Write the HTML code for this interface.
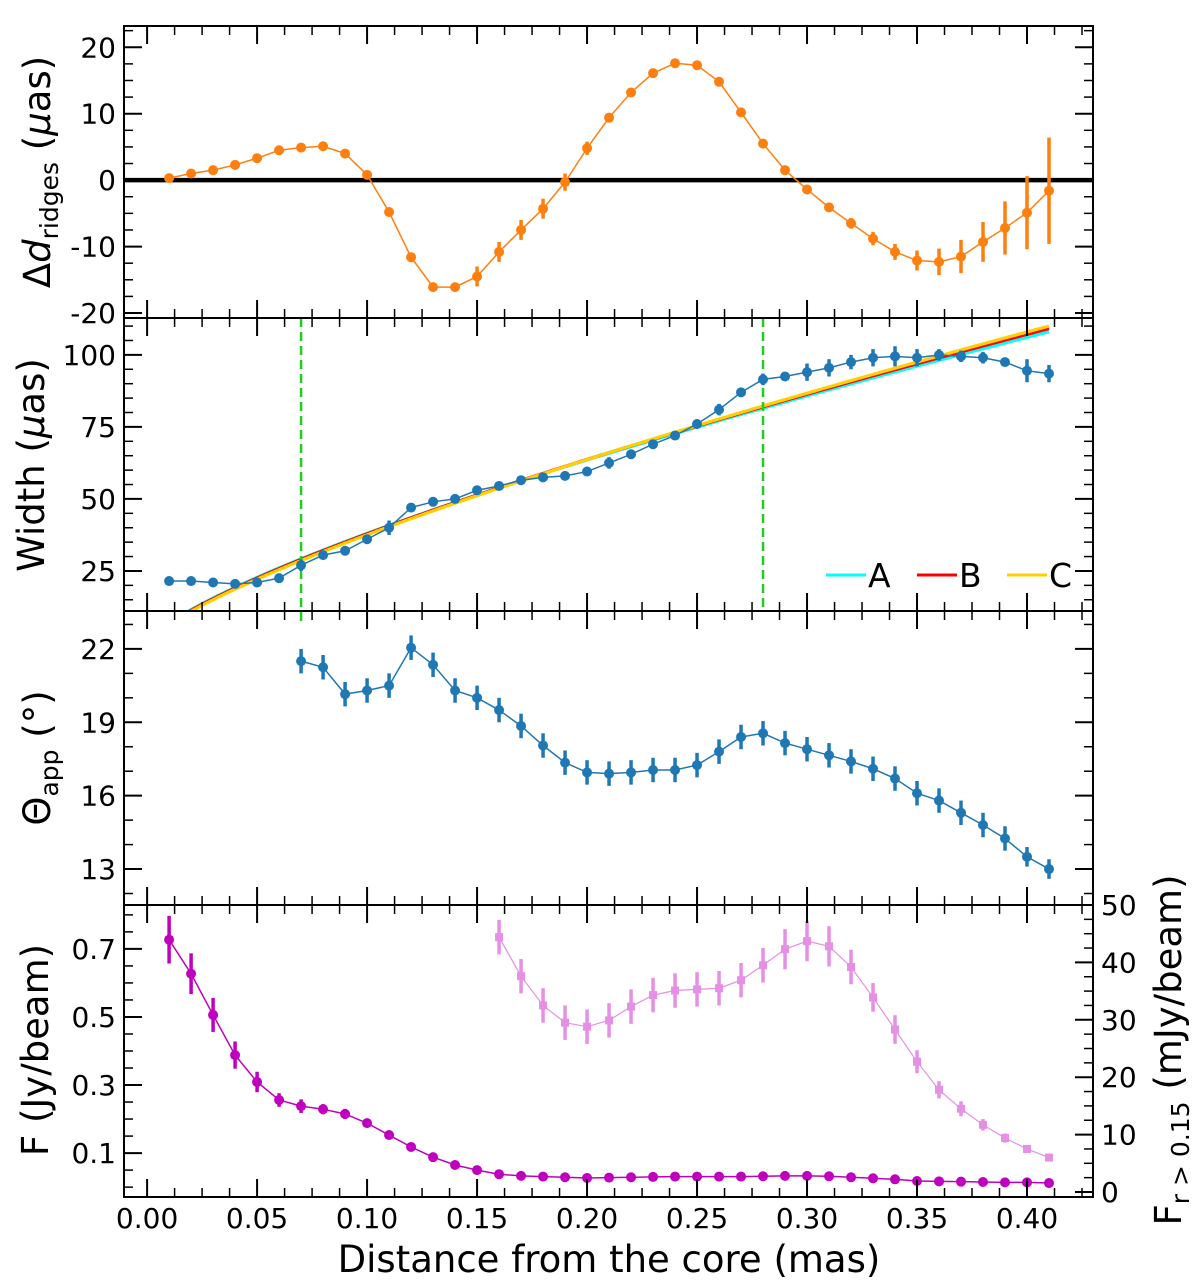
<!DOCTYPE html>
<html><head><meta charset="utf-8"><style>
html,body{margin:0;padding:0;background:#fff;}
svg{display:block;font-family:"DejaVu Sans","Liberation Sans",sans-serif;}
</style></head><body>
<svg id="chart" width="1200" height="1286" viewBox="0 0 1200 1286" xmlns="http://www.w3.org/2000/svg">
<g id="plots"></g>
<text x="609" y="1272" font-size="37" text-anchor="middle">Distance from the core (mas)</text>
<text transform="translate(50,172) rotate(-90)" font-size="37" text-anchor="middle">Δ<tspan font-style="italic">d</tspan><tspan font-size="25" dy="8">ridges</tspan><tspan dy="-8"> (</tspan><tspan font-style="italic">μ</tspan>as)</text>
<text transform="translate(44,465) rotate(-90)" font-size="37" text-anchor="middle">Width (<tspan font-style="italic">μ</tspan>as)</text>
<text transform="translate(50,758) rotate(-90)" font-size="37" text-anchor="middle">Θ<tspan font-size="25" dy="8">app</tspan><tspan dy="-8">  (°)</tspan></text>
<text transform="translate(48,1050) rotate(-90)" font-size="37" text-anchor="middle">F (Jy/beam)</text>
<text transform="translate(1181,1050) rotate(-90)" font-size="37" text-anchor="middle">F<tspan font-size="25" dy="8">r &gt; 0.15</tspan><tspan dy="-8"> (mJy/beam)</tspan></text>
</svg>
<script>
// ---- data ----
const xs1 = [0.01,0.02,0.03,0.04,0.05,0.06,0.07,0.08,0.09,0.10,0.11,0.12,0.13,0.14,0.15,0.16,0.17,0.18,0.19,0.20,0.21,0.22,0.23,0.24,0.25,0.26,0.27,0.28,0.29,0.30,0.31,0.32,0.33,0.34,0.35,0.36,0.37,0.38,0.39,0.40,0.41];
const ridges = [0.3,1,1.5,2.3,3.3,4.5,4.9,5.1,4,0.8,-4.8,-11.6,-16.1,-16.1,-14.5,-10.8,-7.5,-4.3,-0.3,4.8,9.4,13.2,16.1,17.6,17.3,14.8,10.2,5.5,1.5,-1.4,-4.1,-6.5,-8.8,-10.8,-12.1,-12.3,-11.5,-9.3,-7.2,-4.9,-1.6];
const ridgesErr = [0.4,0.4,0.4,0.4,0.4,0.4,0.4,0.4,0.4,0.4,0.4,0.4,0.5,0.5,1.5,1.5,1.5,1.5,1.3,1,0.6,0.5,0.5,0.5,0.5,0.5,0.5,0.5,0.5,0.5,0.6,0.8,1,1.2,1.5,2,2.5,3,4,5.5,8];
const widthVals = [21.5,21.5,21,20.5,21,22.5,27,30.5,32,36,40,47,49,50,53,54.5,56.5,57.5,58,59.5,62.5,65.5,69,72,76,81,87,91.5,92.5,94,95.5,97.5,99,99.5,99,100,99.5,99,97.5,94.5,93.5];
const widthErr = [1.5,1,1,1,1,1,2,1,1,1,2.5,1,1,1,1,1,1,1,1,1,2,1,1.5,1,1,2,1,2,1,3,3,2.5,3,3.5,3,2,2,2,1.5,4,3];
const xs3 = [0.07,0.08,0.09,0.10,0.11,0.12,0.13,0.14,0.15,0.16,0.17,0.18,0.19,0.20,0.21,0.22,0.23,0.24,0.25,0.26,0.27,0.28,0.29,0.30,0.31,0.32,0.33,0.34,0.35,0.36,0.37,0.38,0.39,0.40,0.41];
const theta = [21.5,21.25,20.15,20.3,20.5,22.05,21.35,20.3,20.0,19.5,18.85,18.05,17.35,16.95,16.9,16.95,17.05,17.05,17.25,17.8,18.4,18.55,18.15,17.9,17.65,17.4,17.1,16.7,16.1,15.8,15.3,14.8,14.25,13.5,13.0];
const thetaErr = [0.5,0.5,0.5,0.5,0.5,0.5,0.5,0.5,0.5,0.5,0.5,0.5,0.5,0.5,0.5,0.5,0.5,0.5,0.5,0.5,0.5,0.5,0.5,0.5,0.5,0.5,0.5,0.5,0.5,0.5,0.5,0.5,0.5,0.4,0.4];
const flux = [0.727,0.627,0.506,0.388,0.309,0.256,0.238,0.229,0.215,0.188,0.153,0.118,0.088,0.065,0.05,0.038,0.033,0.031,0.029,0.027,0.028,0.029,0.03,0.031,0.031,0.031,0.031,0.032,0.033,0.033,0.032,0.029,0.026,0.023,0.018,0.017,0.016,0.015,0.014,0.014,0.012];
const fluxErr = [0.07,0.06,0.05,0.04,0.03,0.02,0.02,0.015,0.015,0.012,0.008,0.006,0.005,0.004,0.003,0.003,0.003,0.003,0.003,0.003,0.003,0.003,0.003,0.003,0.003,0.003,0.003,0.003,0.003,0.003,0.003,0.003,0.003,0.003,0.003,0.003,0.003,0.003,0.003,0.003,0.003];
const xs4b = [0.16,0.17,0.18,0.19,0.20,0.21,0.22,0.23,0.24,0.25,0.26,0.27,0.28,0.29,0.30,0.31,0.32,0.33,0.34,0.35,0.36,0.37,0.38,0.39,0.40,0.41];
const fluxOuter = [44.4,37.6,32.5,29.5,28.8,29.9,32.3,34.3,35.1,35.3,35.5,36.9,39.5,42.3,43.7,42.8,39.2,33.9,28.3,22.7,17.8,14.5,11.7,9.4,7.5,6.0];
const fluxOuterErr = [3,3,3,3,3,3,3,3,3,3,3,3,3,3.5,3.5,3.5,3,2.5,2.5,2,1.5,1.3,1,0.8,0.6,0.4];
const fitNames = ["A","B","C"];
const fitAmp = [209,213,217];
const fitExp = [0.74,0.75,0.762];
const vlines = [0.07,0.28];
const xTicks = [0.00,0.05,0.10,0.15,0.20,0.25,0.30,0.35,0.40];
const xTickLabels = ["0.00","0.05","0.10","0.15","0.20","0.25","0.30","0.35","0.40"];

// ---- layout ----
const NS="http://www.w3.org/2000/svg";
const root=document.getElementById('plots');
const L=124,R=1093, X0=-0.0105, X1=0.4300;
const X=v=>L+(v-X0)/(X1-X0)*(R-L);
function el(tag,attrs,parent){const e=document.createElementNS(NS,tag);for(const k in attrs)e.setAttribute(k,attrs[k]);(parent||root).appendChild(e);return e;}
function makeY(top,bot,v0,v1){return v=>bot-(v-v0)/(v1-v0)*(bot-top);}
const panels=[
 {name:'ridges',top:26,bot:318,v0:-20.75,v1:23.2,ticks:[-20,-10,0,10,20],labels:["-20","-10","0","10","20"],minor:2.5},
 {name:'width',top:318,bot:611,v0:11.1,v1:112.8,ticks:[25,50,75,100],labels:["25","50","75","100"],minor:5},
 {name:'theta',top:611,bot:905,v0:11.53,v1:23.55,ticks:[13,16,19,22],labels:["13","16","19","22"],minor:1},
 {name:'flux',top:905,bot:1197,v0:-0.029,v1:0.829,ticks:[0.1,0.3,0.5,0.7],labels:["0.1","0.3","0.5","0.7"],minor:0.05}
];
panels.forEach(p=>p.Y=makeY(p.top,p.bot,p.v0,p.v1));
const YR=makeY(905,1192,0,50);

function clip(p,id){const c=el('clipPath',{id:id});el('rect',{x:L,y:p.top,width:R-L,height:p.bot-p.top},c);return 'url(#'+id+')';}

function drawAxes(p,idx,rightAxis){
  const g=el('g',{});
  
  
  for(let v=0;v<=0.4301;v+=0.0125){
    const major=Math.abs(v/0.05-Math.round(v/0.05))<1e-6;
    const len=major?18:9, w=major?2:1.5, x=X(v);
    el('line',{x1:x,y1:p.top,x2:x,y2:p.top+len,stroke:'#000','stroke-width':w},g);
    el('line',{x1:x,y1:p.bot,x2:x,y2:p.bot-len,stroke:'#000','stroke-width':w},g);
  }
  const start=Math.ceil(p.v0/p.minor)*p.minor;
  for(let v=start;v<=p.v1+1e-9;v+=p.minor){
    const major=p.ticks.some(t=>Math.abs(t-v)<1e-6);
    const len=major?18:9,w=major?2:1.5,y=p.Y(v);
    el('line',{x1:L,y1:y,x2:L+len,y2:y,stroke:'#000','stroke-width':w},g);
    if(!rightAxis) el('line',{x1:R,y1:y,x2:R-len,y2:y,stroke:'#000','stroke-width':w},g);
  }
  p.ticks.forEach((t,i)=>{
    const tx=el('text',{x:L-8,y:p.Y(t)+10,'font-size':28,'text-anchor':'end'},g);
    tx.textContent=p.labels[i];
  });
  if(rightAxis){
    for(let v=0;v<=50;v+=2.5){
      const major=Math.abs(v%10)<1e-6;
      const len=major?18:9,w=major?2:1.5,y=YR(v);
      el('line',{x1:R,y1:y,x2:R-len,y2:y,stroke:'#000','stroke-width':w},g);
      if(major){const tx=el('text',{x:R+8,y:y+10,'font-size':28,'text-anchor':'start'},g);tx.textContent=String(v);}
    }
  }
  el('rect',{x:L,y:p.top,width:R-L,height:p.bot-p.top,fill:'none',stroke:'#000','stroke-width':2},g);
}

function series(xs,ys,errs,Y,color,name,opts){
  opts=opts||{};
  const g=el('g',{'clip-path':opts.clip||'',opacity:opts.opacity||1});
  
  
  el('polyline',{points:xs.map((x,i)=>X(x)+','+Y(ys[i])).join(' '),fill:'none',stroke:color,'stroke-width':opts.lw||1.5},g);
  xs.forEach((x,i)=>{
    const cx=X(x),cy=Y(ys[i]);
    if(errs) el('line',{x1:cx,y1:Y(ys[i]-errs[i]),x2:cx,y2:Y(ys[i]+errs[i]),stroke:color,'stroke-width':3.5},g);
    let m;
    if(opts.square) m=el('rect',{x:cx-4,y:cy-4,width:8,height:8,fill:color},g);
    else m=el('circle',{cx:cx,cy:cy,r:5,fill:color},g);
    
    
  });
}

{const p=panels[0];const c=clip(p,'c0');
 const z=el('line',{x1:L,y1:p.Y(0),x2:R,y2:p.Y(0),stroke:'#000','stroke-width':4.5});
 
 series(xs1,ridges,ridgesErr,p.Y,'#ff7f0e','ridge-offset-series',{clip:c});
 drawAxes(p,0,false);}
{const p=panels[1];const c=clip(p,'c1');
 const fitColors=['#00ffff','#ff0000','#ffd000'];
 fitNames.forEach((n,k)=>{
   const pts=[];for(let x=0.012;x<=0.4101;x+=0.002){pts.push(X(x)+','+p.Y(fitAmp[k]*Math.pow(x,fitExp[k])));}
   const pl=el('polyline',{points:pts.join(' '),fill:'none',stroke:fitColors[k],'stroke-width':3.2,'clip-path':c});
   
 });
 vlines.forEach(v=>{const l=el('line',{x1:X(v),y1:p.top,x2:X(v),y2:p.bot,stroke:'#22cc22','stroke-width':2.5,'stroke-dasharray':'9,5'});
   });
 series(xs1,widthVals,widthErr,p.Y,'#1f77b4','width-series',{clip:c});
 const lg=el('g',{});
 const lx=[826,917,1007];
 fitNames.forEach((n,k)=>{el('line',{x1:lx[k],y1:575,x2:lx[k]+40,y2:575,stroke:fitColors[k],'stroke-width':3},lg);
   const t=el('text',{x:lx[k]+42,y:587,'font-size':33},lg);t.textContent=n;
   });
 drawAxes(p,1,false);}
{const p=panels[2];const c=clip(p,'c2');
 const l=el('line',{x1:X(0.07),y1:p.top,x2:X(0.07),y2:p.top+10,stroke:'#22cc22','stroke-width':2.5});
 
 series(xs3,theta,thetaErr,p.Y,'#1f77b4','theta-series',{clip:c});
 drawAxes(p,2,false);}
{const p=panels[3];const c=clip(p,'c3');
 series(xs4b,fluxOuter,fluxOuterErr,YR,'#cc22cc','flux-outer-series',{clip:c,opacity:0.5,square:true,lw:1.2});
 series(xs1,flux,fluxErr,p.Y,'#bf00bf','flux-series',{clip:c});
 drawAxes(p,3,true);
 xTicks.forEach((t,i)=>{const tx=el('text',{x:X(t),y:1228,'font-size':28,'text-anchor':'middle'});tx.textContent=xTickLabels[i];
   });
}
</script>
</body></html>
